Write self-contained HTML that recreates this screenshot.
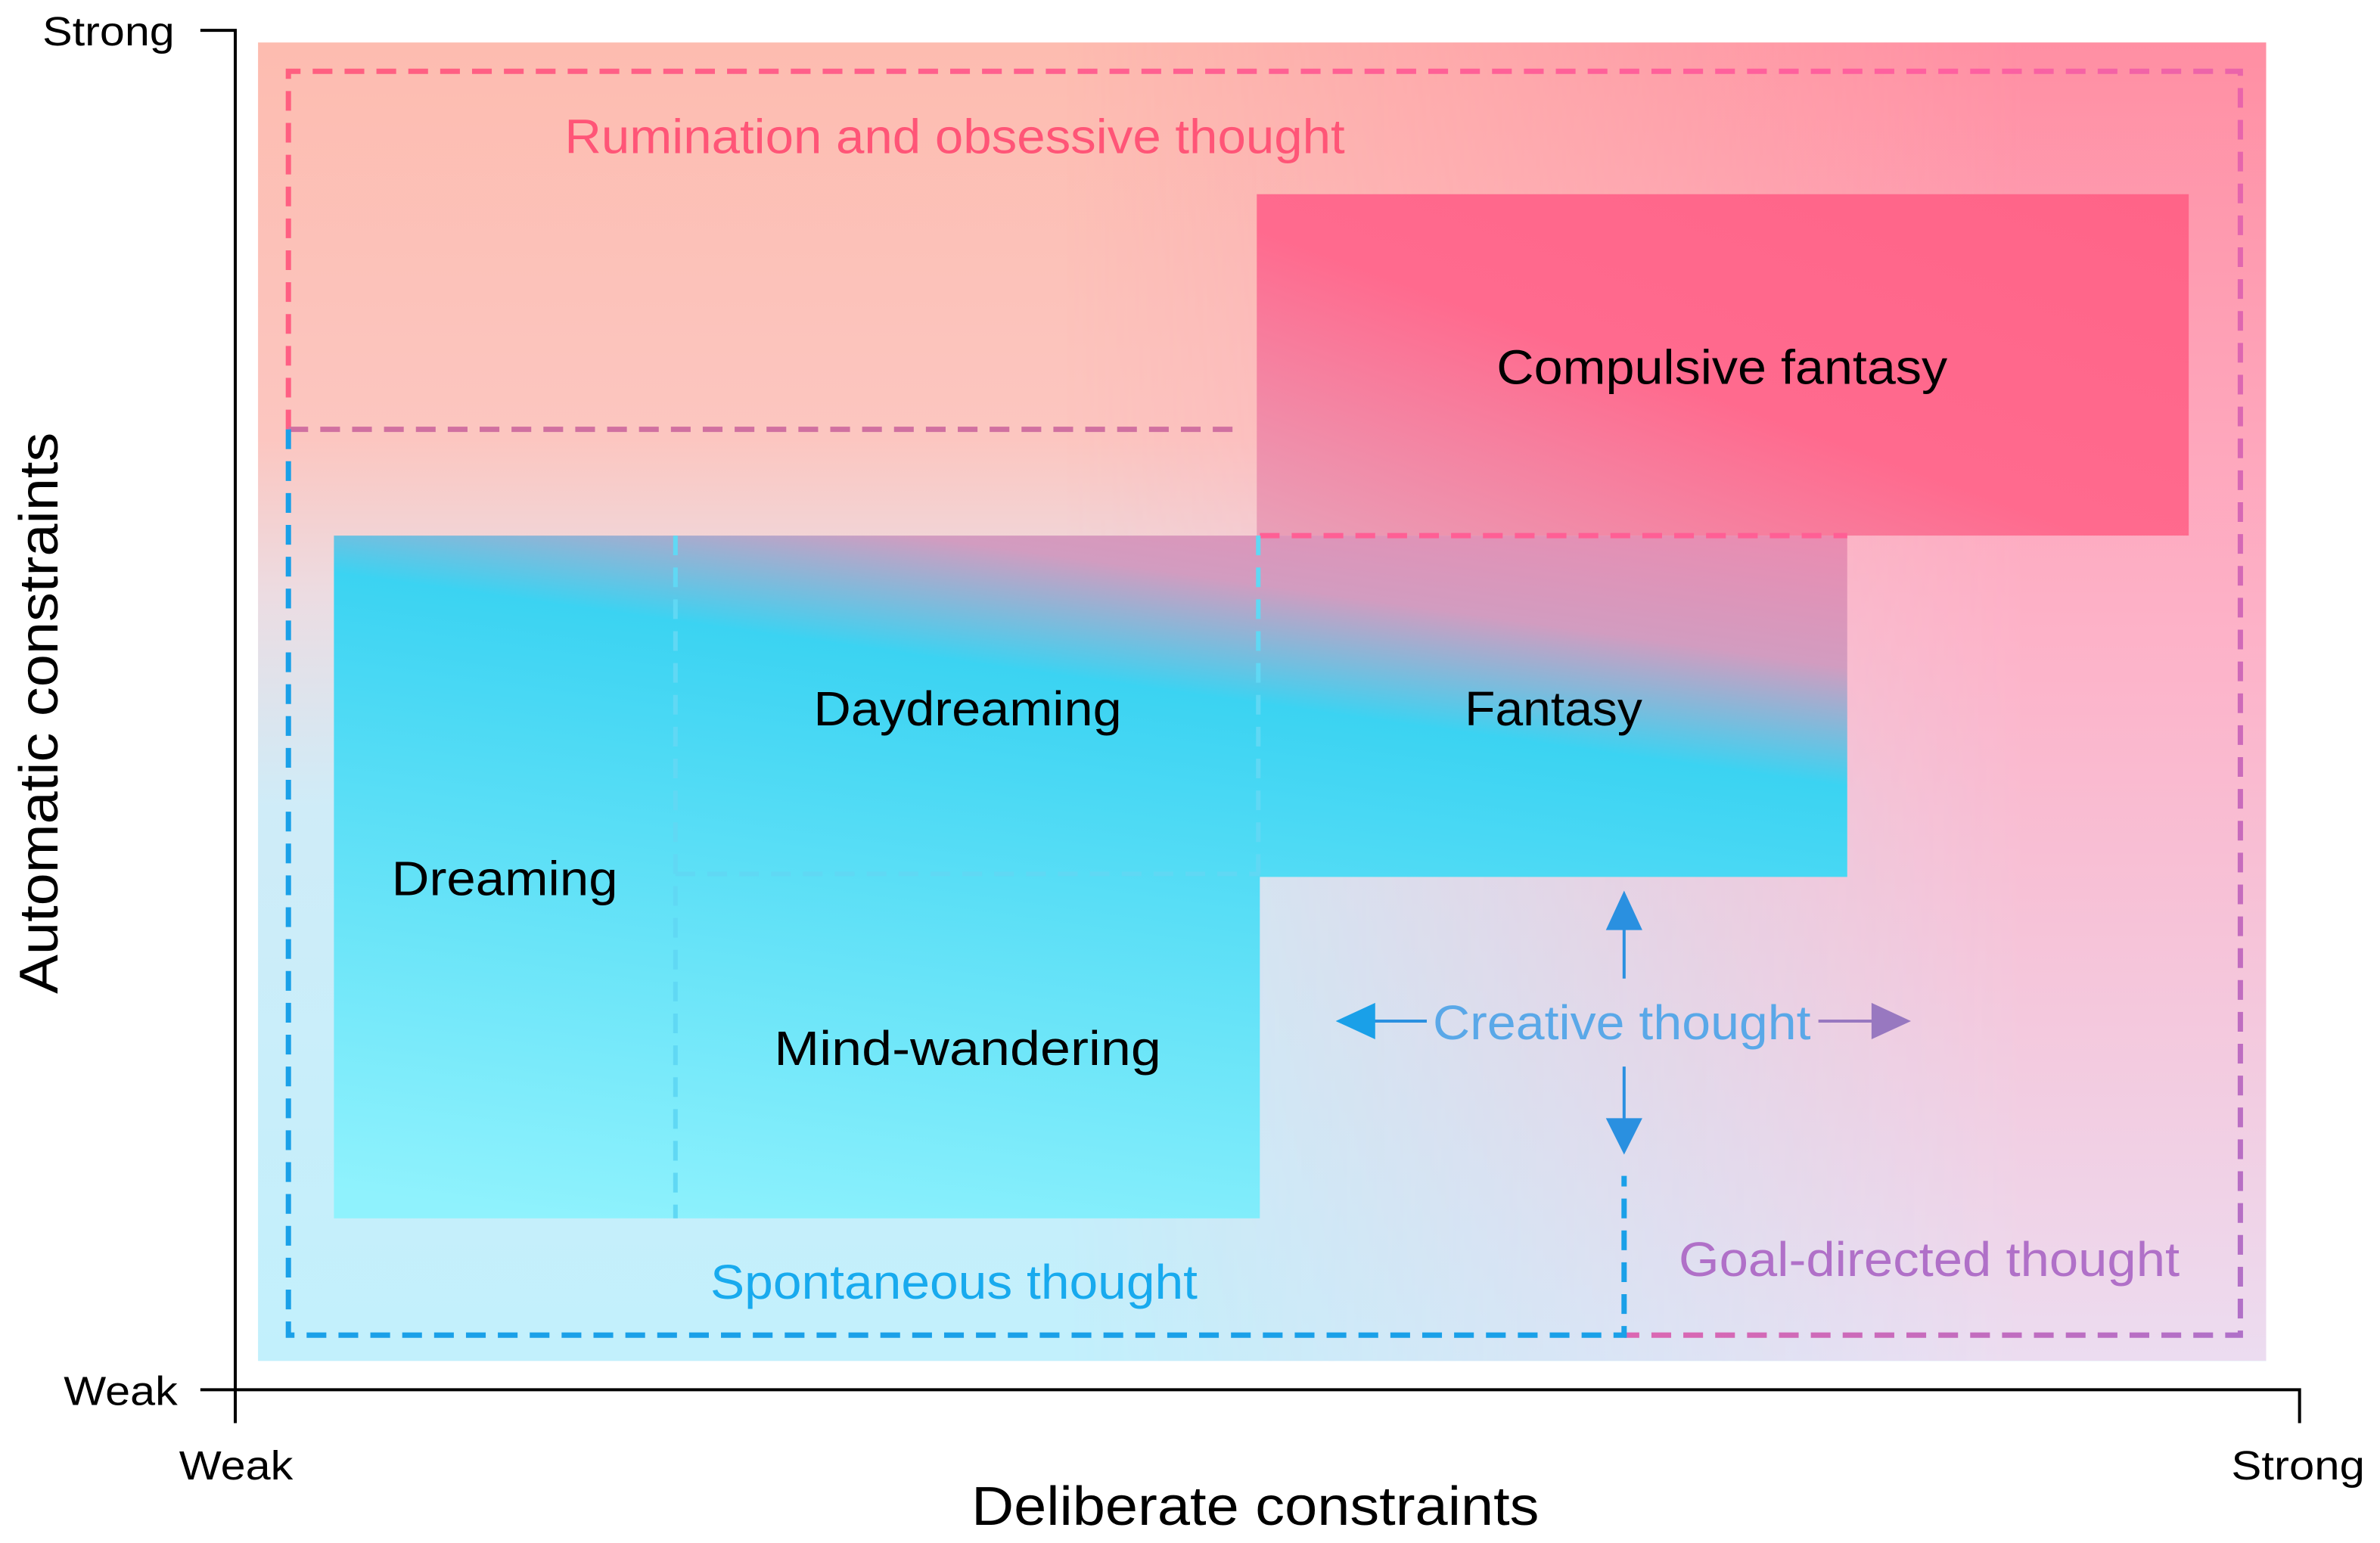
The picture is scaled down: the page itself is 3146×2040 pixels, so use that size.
<!DOCTYPE html>
<html><head><meta charset="utf-8"><style>html,body{margin:0;padding:0;background:#fff}svg{display:block}text{font-family:"Liberation Sans",sans-serif}</style></head><body>
<svg width="3146" height="2040" viewBox="0 0 1568 1017" preserveAspectRatio="none" xmlns="http://www.w3.org/2000/svg">
<defs>
<linearGradient id="lv" x1="0" y1="0" x2="0" y2="1">
<stop offset="0" stop-color="#fdbcb0"/><stop offset="0.3" stop-color="#fcc6c0"/><stop offset="0.42" stop-color="#ecdce2"/><stop offset="0.58" stop-color="#cfecf8"/><stop offset="1" stop-color="#c2f0fc"/></linearGradient>
<linearGradient id="rv" x1="0" y1="0" x2="0" y2="1">
<stop offset="0" stop-color="#ff8fa3"/><stop offset="0.45" stop-color="#fdb2c8"/><stop offset="1" stop-color="#ecdcf0"/></linearGradient>
<linearGradient id="mh" x1="0" y1="0" x2="1" y2="0">
<stop offset="0.4" stop-color="#fff" stop-opacity="0"/><stop offset="0.88" stop-color="#fff" stop-opacity="1"/></linearGradient>
<mask id="m"><rect x="170" y="28" width="1323" height="869" fill="url(#mh)"/></mask>
<linearGradient id="cy" gradientUnits="userSpaceOnUse" x1="746" y1="252" x2="662" y2="846">
<stop offset="0" stop-color="#f585aa"/><stop offset="0.2" stop-color="#d29cc0"/><stop offset="0.33" stop-color="#3bd3f2"/><stop offset="1" stop-color="#8ff2fd"/></linearGradient>
<linearGradient id="cf" x1="1" y1="0" x2="0" y2="1">
<stop offset="0" stop-color="#ff6488"/><stop offset="0.55" stop-color="#ff6a8e"/><stop offset="1" stop-color="#e8a0b8"/></linearGradient>
<linearGradient id="outer" gradientUnits="userSpaceOnUse" x1="190" y1="47" x2="1476" y2="880">
<stop offset="0" stop-color="#ff5f80"/><stop offset="0.6" stop-color="#ff60a0"/><stop offset="1" stop-color="#b070c8"/></linearGradient>
</defs>
<rect x="170" y="28" width="1323" height="869" fill="url(#lv)"/>
<rect x="170" y="28" width="1323" height="869" fill="url(#rv)" mask="url(#m)"/>
<rect x="828" y="128" width="614" height="225" fill="url(#cf)"/>
<path d="M220 353H1217V578H830V803H220Z" fill="url(#cy)"/>
<g fill="none" stroke-width="3.5" stroke-dasharray="13 8">
<path d="M190 283V47H1476V880H1070" stroke="url(#outer)"/>
<path d="M190 283H815" stroke="#d070a0"/>
<path d="M190 283V880H1070V775" stroke="#1aa0e8"/>
<path d="M830 353H1217" stroke="#ff5f95"/>
<g stroke="#60d8f4" stroke-width="3"><path d="M445 353V803"/><path d="M445 576H830"/><path d="M829 353V578"/></g>
</g>
<g stroke-width="2">
<path d="M1070 645V605" stroke="#2a90e0"/><path d="M1070 703V745" stroke="#2a90e0"/>
<path d="M940 673H900" stroke="#2a90e0"/><path d="M1198 673H1240" stroke="#9878c0"/>
</g>
<path d="M1070 587L1058 613H1082Z" fill="#2a90e0"/>
<path d="M1070 761L1058 737H1082Z" fill="#2a90e0"/>
<path d="M880 673L906 661V685Z" fill="#1aa0e8"/>
<path d="M1259 673L1233 661V685Z" fill="#9878c0"/>
<g stroke="#000" stroke-width="2" fill="none"><path d="M132 20H155V938"/><path d="M132 916H1515V938"/></g>
<g font-size="32">
<text x="372" y="101" textLength="514" lengthAdjust="spacingAndGlyphs" fill="#ff5577">Rumination and obsessive thought</text>
<text x="986" y="253" textLength="297" lengthAdjust="spacingAndGlyphs" fill="#000">Compulsive fantasy</text>
<text x="536" y="478" textLength="203" lengthAdjust="spacingAndGlyphs" fill="#000">Daydreaming</text>
<text x="965" y="478" textLength="117" lengthAdjust="spacingAndGlyphs" fill="#000">Fantasy</text>
<text x="258" y="590" textLength="149" lengthAdjust="spacingAndGlyphs" fill="#000">Dreaming</text>
<text x="510" y="702" textLength="255" lengthAdjust="spacingAndGlyphs" fill="#000">Mind-wandering</text>
<text x="944" y="685" textLength="249" lengthAdjust="spacingAndGlyphs" fill="#5aa8e8">Creative thought</text>
<text x="468" y="856" textLength="321" lengthAdjust="spacingAndGlyphs" fill="#18aaee">Spontaneous thought</text>
<text x="1106" y="841" textLength="330" lengthAdjust="spacingAndGlyphs" fill="#b070c8">Goal-directed thought</text>
</g>
<g font-size="27" fill="#000">
<text x="28" y="30" textLength="87" lengthAdjust="spacingAndGlyphs">Strong</text>
<text x="42" y="926" textLength="75" lengthAdjust="spacingAndGlyphs">Weak</text>
<text x="118" y="975" textLength="75" lengthAdjust="spacingAndGlyphs">Weak</text>
<text x="1470" y="975" textLength="88" lengthAdjust="spacingAndGlyphs">Strong</text>
</g>
<text x="640" y="1005" font-size="36" textLength="374" lengthAdjust="spacingAndGlyphs" fill="#000">Deliberate constraints</text>
<text transform="translate(38,655) rotate(-90)" font-size="36" textLength="370" lengthAdjust="spacingAndGlyphs" fill="#000">Automatic constraints</text>
</svg>
</body></html>
